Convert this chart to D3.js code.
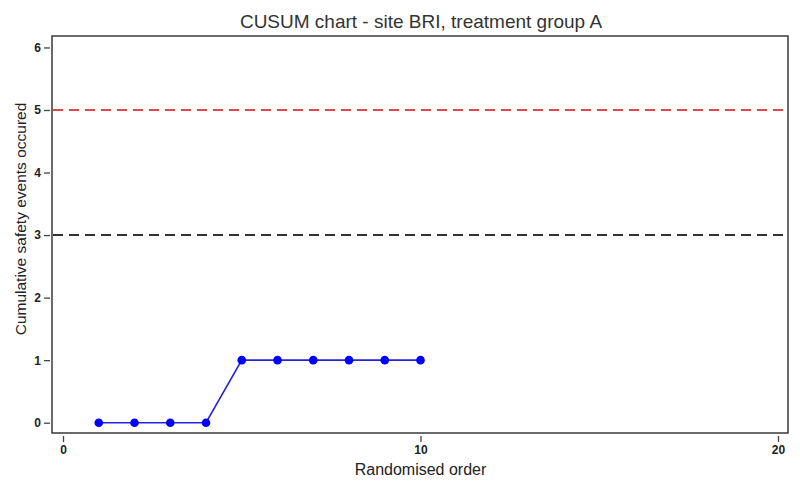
<!DOCTYPE html>
<html><head><meta charset="utf-8">
<script src="https://cdn.jsdelivr.net/npm/d3@7"></script>
<style>body{margin:0;background:#fff}svg{display:block}</style>
</head><body>
<svg id="c" width="800" height="489"></svg>
<script>
const title = "CUSUM chart - site BRI, treatment group A";
const xLabel = "Randomised order";
const yLabel = "Cumulative safety events occured";
const order = [1,2,3,4,5,6,7,8,9,10];
const cusum = [0,0,0,0,1,1,1,1,1,1];
const xTicks = [0,10,20];
const yTicks = [0,1,2,3,4,5,6];
const limits = [{v:5,color:"#e04848"},{v:3,color:"#333333"}];

const svg = d3.select("#c");
const box = {l:52, r:788, t:36, b:433};
const x = d3.scaleLinear().domain([0,20]).range([63,778]);
const y = d3.scaleLinear().domain([0,5]).range([422.7,110]);

svg.append("rect").attr("x",box.l).attr("y",box.t).attr("width",box.r-box.l).attr("height",box.b-box.t)
  .attr("fill","none").attr("stroke","#3a3a3a").attr("stroke-width",1.5);

const yAx = svg.append("g").attr("transform",`translate(${box.l-2},0)`)
  .call(d3.axisLeft(y).tickValues(yTicks).tickSize(6).tickPadding(3).tickFormat(d3.format("d")));
yAx.select(".domain").remove();
const xAx = svg.append("g").attr("transform",`translate(0,${box.b+3})`)
  .call(d3.axisBottom(x).tickValues(xTicks).tickSize(6).tickPadding(3).tickFormat(d3.format("d")));
xAx.select(".domain").remove();
svg.selectAll(".tick line").attr("stroke","#444").attr("stroke-width",1.3);
svg.selectAll(".tick text").attr("font-family","Liberation Sans, Arial, sans-serif")
  .attr("font-size",12).attr("font-weight","bold").attr("fill","#222");

svg.selectAll("line.lim").data(limits).join("line").attr("class","lim")
  .attr("x1",box.l+1).attr("x2",box.r-1)
  .attr("y1",d=>y(d.v)).attr("y2",d=>y(d.v))
  .attr("stroke",d=>d.color).attr("stroke-width",2).attr("stroke-dasharray","10,6");

const pts = order.map((o,i)=>({x:o,y:cusum[i]}));
svg.append("path").datum(pts)
  .attr("d",d3.line().x(d=>x(d.x)).y(d=>y(d.y)))
  .attr("fill","none").attr("stroke","#2424e0").attr("stroke-width",1.6);
svg.selectAll("circle").data(pts).join("circle")
  .attr("cx",d=>x(d.x)).attr("cy",d=>y(d.y)).attr("r",4.3).attr("fill","#0000ff");

svg.append("text").attr("x",421).attr("y",28).attr("text-anchor","middle")
  .attr("font-family","Liberation Sans, Arial, sans-serif").attr("font-size",19).attr("fill","#333").text(title);
svg.append("text").attr("x",420.5).attr("y",475).attr("text-anchor","middle")
  .attr("font-family","Liberation Sans, Arial, sans-serif").attr("font-size",16).attr("fill","#222").text(xLabel);
svg.append("text").attr("transform","translate(26,219) rotate(-90)").attr("text-anchor","middle")
  .attr("font-family","Liberation Sans, Arial, sans-serif").attr("font-size",15.5).attr("fill","#222").text(yLabel);
</script>
</body></html>
